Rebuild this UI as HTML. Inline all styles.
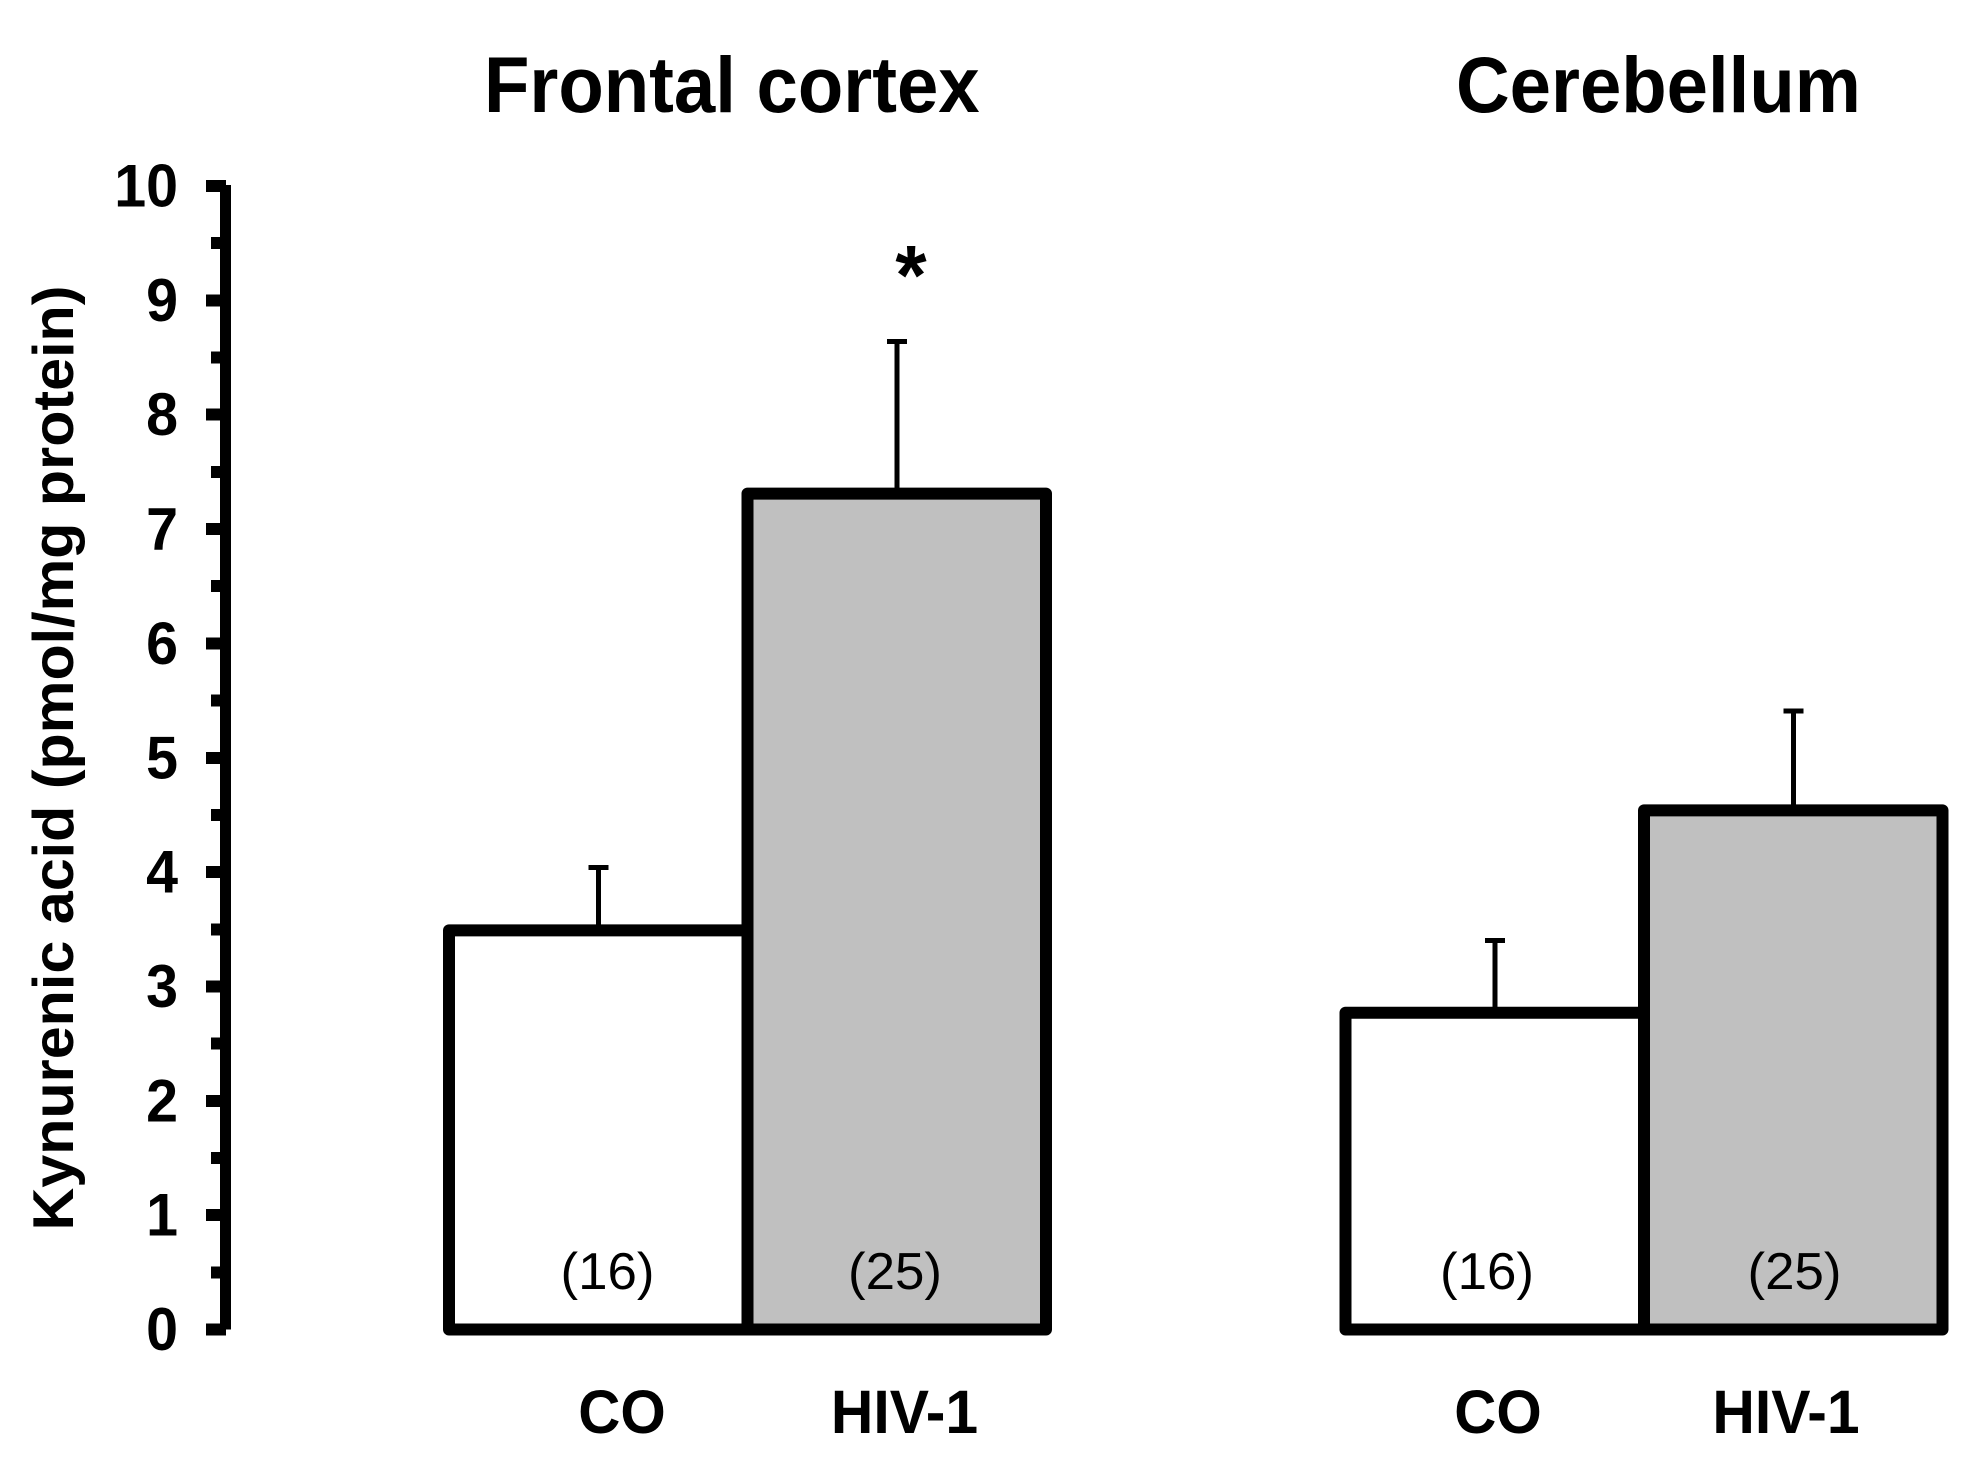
<!DOCTYPE html>
<html lang="en">
<head>
<meta charset="utf-8">
<title>Kynurenic acid in frontal cortex and cerebellum</title>
<style>
  html, body { margin: 0; padding: 0; background: #ffffff; }
  #chart { display: block; width: 1977px; height: 1467px; background: #ffffff; }
  text { font-family: "Liberation Sans", Arial, sans-serif; fill: #000000; }
  .bold { font-weight: 700; }
</style>
</head>
<body>
<svg id="chart" xmlns="http://www.w3.org/2000/svg" width="1977" height="1467" viewBox="0 0 1977 1467">
  <rect x="0" y="0" width="1977" height="1467" fill="#ffffff"/>

  <g id="marks"></g>
  <g id="axis"></g>

  <text class="bold" transform="translate(484 112) scale(.947 1)" font-size="78.5">Frontal cortex</text>
  <text class="bold" transform="translate(1456 112) scale(.947 1)" font-size="78.5">Cerebellum</text>

  <text class="bold" transform="translate(73 1230.5) rotate(-90) scale(1 .956)" font-size="60" textLength="945" lengthAdjust="spacingAndGlyphs">Kynurenic acid (pmol/mg protein)</text>

  <text class="bold" text-anchor="middle" transform="translate(911 304) scale(.956 1)" font-size="84">*</text>

  <text text-anchor="middle" x="607.5" y="1289" font-size="52" textLength="94" lengthAdjust="spacingAndGlyphs">(16)</text>
  <text text-anchor="middle" x="895" y="1289" font-size="52" textLength="94" lengthAdjust="spacingAndGlyphs">(25)</text>
  <text text-anchor="middle" x="1487" y="1289" font-size="52" textLength="94" lengthAdjust="spacingAndGlyphs">(16)</text>
  <text text-anchor="middle" x="1794.5" y="1289" font-size="52" textLength="94" lengthAdjust="spacingAndGlyphs">(25)</text>

  <text class="bold" text-anchor="middle" transform="translate(622 1433) scale(.956 1)" font-size="61">CO</text>
  <text class="bold" text-anchor="middle" transform="translate(904.5 1433) scale(.965 1)" font-size="61">HIV-1</text>
  <text class="bold" text-anchor="middle" transform="translate(1498 1433) scale(.956 1)" font-size="61">CO</text>
  <text class="bold" text-anchor="middle" transform="translate(1786 1433) scale(.965 1)" font-size="61">HIV-1</text>
</svg>

<script>
// Chart data
const regions = ["frontal-cortex", "cerebellum"];
const groups = ["co", "hiv"];
const frontalMeans = [3.49, 7.31];
const frontalErrors = [0.55, 1.33];
const cerebellumMeans = [2.77, 4.54];
const cerebellumErrors = [0.63, 0.87];
const majorTicks = [0, 1, 2, 3, 4, 5, 6, 7, 8, 9, 10];
const minorTicks = [0.5, 1.5, 2.5, 3.5, 4.5, 5.5, 6.5, 7.5, 8.5, 9.5];
const tickLabels = ["0", "1", "2", "3", "4", "5", "6", "7", "8", "9", "10"];

const NS = "http://www.w3.org/2000/svg";
const groupFills = ["#ffffff", "#c0c0c0"];

// Axis functions
function yScale(v) { return 1329.5 - 114.35 * v; }
function barLeft(regionIndex, groupIndex) { return 449 + regionIndex * 896.5 + groupIndex * 298.5; }
function barCenter(regionIndex, groupIndex) { return barLeft(regionIndex, groupIndex) + 149.25; }

function make(tag, parent, attrs) {
  const el = document.createElementNS(NS, tag);
  for (const k in attrs) el.setAttribute(k, attrs[k]);
  parent.appendChild(el);
  return el;
}

const axisGroup = document.getElementById("axis");
const marksGroup = document.getElementById("marks");

// Y axis
const spine = make("rect", axisGroup, { x: 220, y: yScale(10) - 1, width: 11, height: yScale(0) - yScale(10) + 1, fill: "#000", "shape-rendering": "crispEdges" });



majorTicks.forEach(function (v, i) {
  const tick = make("rect", axisGroup, { x: 206, y: yScale(v) - 6, width: 20, height: 12, fill: "#000", "shape-rendering": "crispEdges" });
  
  

  const label = make("text", axisGroup, {
    transform: "translate(178 " + (yScale(v) + 20.5) + ") scale(.956 1)",
    "text-anchor": "end",
    "font-size": 60,
    "font-weight": 700
  });
  label.textContent = tickLabels[i];
  
  
});

minorTicks.forEach(function (v) {
  const tick = make("rect", axisGroup, { x: 211, y: yScale(v) - 6, width: 15, height: 12, fill: "#000", "shape-rendering": "crispEdges" });
  
  
});

// Bars and error bars
const allMeans = [frontalMeans, cerebellumMeans];
const allErrors = [frontalErrors, cerebellumErrors];

regions.forEach(function (region, r) {
  groups.forEach(function (group, g) {
    const mean = allMeans[r][g];
    const err = allErrors[r][g];
    const cx = barCenter(r, g);
    const top = yScale(mean + err);

    const stem = make("rect", marksGroup, { x: cx - 2.5, y: top, width: 5, height: yScale(mean) - top, fill: "#000", "shape-rendering": "crispEdges" });
    
    

    const cap = make("rect", marksGroup, { x: cx - 10, y: top - 2.5, width: 20, height: 5, fill: "#000", "shape-rendering": "crispEdges" });
    
    

    const bar = make("rect", marksGroup, {
      x: barLeft(r, g),
      y: yScale(mean),
      width: 298.5,
      height: yScale(0) - yScale(mean),
      fill: groupFills[g],
      stroke: "#000",
      "stroke-width": 12,
      "stroke-linejoin": "round"
    });
    
    
  });
});
</script>
</body>
</html>
